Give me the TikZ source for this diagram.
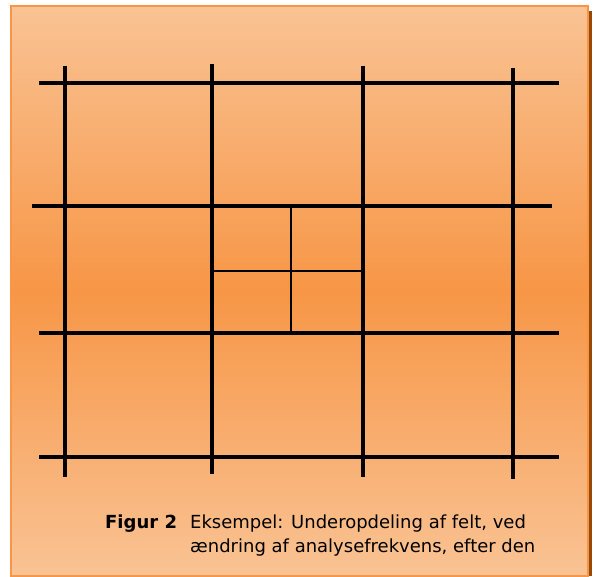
\documentclass[tikz,border=0pt]{standalone}
\usepackage{fontspec}
\setmainfont{DejaVu Sans}
\definecolor{frameor}{HTML}{F79646}
\definecolor{lightor}{HTML}{F9C394}
\definecolor{shadowor}{HTML}{984807}
\begin{document}
\begin{tikzpicture}[x=1pt,y=-1pt,
  thick line/.style={line width=4pt, black},
  thin line/.style={line width=2pt, black},
  caption/.style={anchor=base west, inner sep=0pt, font=\fontsize{18}{21}\selectfont}]
\useasboundingbox (0,0) rectangle (595,577);
% shadow
\fill[shadowor] (586,11) rectangle (592,576);
% panel with gradient
\shade[top color=lightor, bottom color=lightor, middle color=frameor] (11,6) rectangle (588,576);
\draw[frameor, line width=2.5pt] (11,6) rectangle (588,576);
% grid coordinates
\coordinate (h1a) at (39,83);  \coordinate (h1b) at (559,83);
\coordinate (h2a) at (32,206); \coordinate (h2b) at (552,206);
\coordinate (h3a) at (39,333); \coordinate (h3b) at (559,333);
\coordinate (h4a) at (39,457); \coordinate (h4b) at (559,457);
\coordinate (v1a) at (65,66);  \coordinate (v1b) at (65,477);
\coordinate (v2a) at (212,64); \coordinate (v2b) at (212,474);
\coordinate (v3a) at (363,66); \coordinate (v3b) at (363,477);
\coordinate (v4a) at (513,68); \coordinate (v4b) at (513,479);
\coordinate (ia) at (291,206); \coordinate (ib) at (291,333);
\coordinate (ic) at (212,271); \coordinate (id) at (363,271);
\draw[thick line] (h1a) -- (h1b);
\draw[thick line] (h2a) -- (h2b);
\draw[thick line] (h3a) -- (h3b);
\draw[thick line] (h4a) -- (h4b);
\draw[thick line] (v1a) -- (v1b);
\draw[thick line] (v2a) -- (v2b);
\draw[thick line] (v3a) -- (v3b);
\draw[thick line] (v4a) -- (v4b);
\draw[thin line] (ia) -- (ib);
\draw[thin line] (ic) -- (id);
% caption
\node[caption] (fig) at (105,528) {\textbf{Figur 2}};
\node[caption] (l1) at (190,528) {Eksempel: Underopdeling af felt, ved};
\node[caption] (l2) at (190,552) {ændring af analysefrekvens, efter den};
\end{tikzpicture}
\end{document}
